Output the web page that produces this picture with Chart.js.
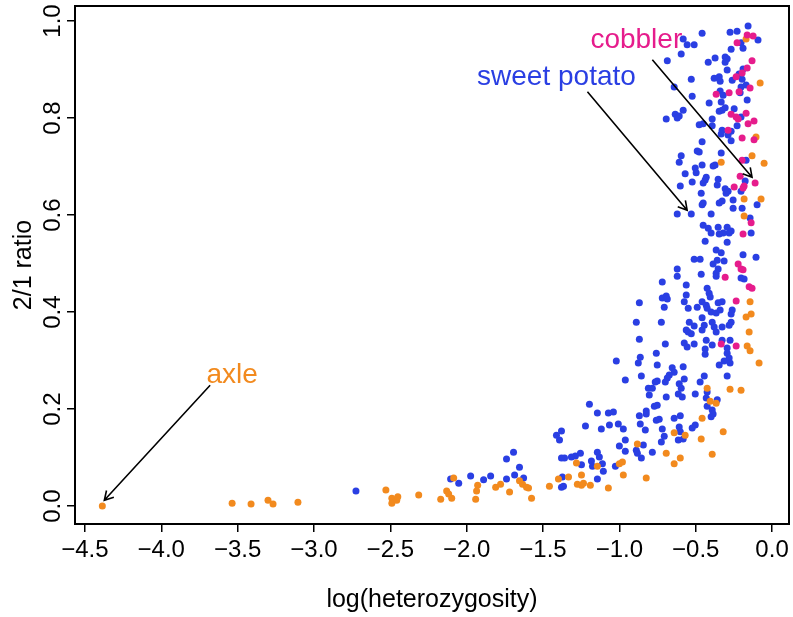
<!DOCTYPE html>
<html>
<head>
<meta charset="utf-8">
<script src="https://cdn.jsdelivr.net/npm/chart.js@4"></script>
<style>
  html, body { margin: 0; padding: 0; background: #fff; }
  #grafico { display: block; }
</style>
</head>
<body>
<canvas id="grafico" width="793" height="617"></canvas>
<script>
// ---- data: log(heterozygosity) vs 2/1 ratio ----
const blueX = [
  -0.157, -0.275, -0.229, -0.458, -0.582, -0.556, -0.510, -0.092, -0.203, -0.190,
  -0.268, -0.595, -0.686, -0.418, -0.373, -0.307, -0.294, -0.307, -0.294, -0.190,
  -0.216, -0.196, -0.261, -0.379, -0.346, -0.340, -0.529, -0.641, -0.203, -0.170,
  -0.340, -0.320, -0.523, -0.209, -0.333, -0.163, -0.412, -0.307, -0.327, -0.346,
  -0.248, -0.582, -0.634, -0.608, -0.621, -0.693, -0.392, -0.203, -0.477, -0.451,
  -0.392, -0.229, -0.327, -0.268, -0.333, -0.288, -0.268, -0.458, -0.490, -0.477,
  -0.333, -0.595, -0.608, -0.458, -0.503, -0.497, -0.386, -0.373, -0.569, -0.431,
  -0.170,
  -0.353, -0.438, -0.451, -0.523, -0.359, -0.601, -0.307, -0.288, -0.301, -0.464,
  -0.176, -0.203, -0.255, -0.327, -0.346, -0.451, -0.458, -0.255, -0.196, -0.098,
  -0.621, -0.529, -0.399, -0.144, -0.451, -0.418, -0.399, -0.353, -0.294, -0.268,
  -0.281, -0.320, -0.346, -0.137, -0.438, -0.294, -0.366, -0.333, -0.190, -0.105,
  -0.510, -0.471, -0.314, -0.359, -0.386, -0.353, -0.366, -0.366, -0.621, -0.621,
  -0.464, -0.203, -0.183, -0.719, -0.562, -0.425, -0.412, -0.405, -0.719, -0.693,
  -0.686, -0.562, -0.869, -0.706, -0.575, -0.549, -0.490, -0.458, -0.431, -0.425,
  -0.399, -0.366, -0.340, -0.327, -0.353, -0.261, -0.268, -0.268, -0.281, -0.889,
  -0.725, -0.542, -0.510, -0.562, -0.549, -0.529, -0.458, -0.444, -0.458, -0.392,
  -0.379, -0.366, -0.327, -0.869, -0.699, -0.575, -0.510, -0.431, -0.392, -0.327,
  -0.275,
  -0.556, -0.438, -0.438, -0.294, -0.294, -0.281, -0.275, -0.314, -0.346, -1.020,
  -0.863, -0.876, -0.758, -0.752, -0.654, -0.641, -0.582, -0.856, -0.961, -0.294,
  -0.444, -0.471, -0.575, -0.673, -0.686, -0.699, -0.752, -0.765, -0.608, -0.595,
  -0.810, -0.784, -0.804, -0.693, -0.614, -0.588, -0.503, -0.425, -0.431, -0.359,
  -1.196, -1.144, -1.072, -1.039, -0.824, -0.824, -0.771, -0.752, -0.869, -0.601,
  -0.641, -0.758, -0.739, -0.425, -0.392, -0.386, -0.399, -1.222, -1.118, -1.065,
  -1.007, -0.974, -0.863, -0.830, -0.719, -0.706, -0.608, -0.601, -0.503, -0.523,
  -1.379, -1.392, -0.961, -1.000, -0.961, -0.889, -0.882, -0.843, -0.784, -0.725,
  -0.614, -0.582, -0.856, -1.144, -1.131, -1.183, -1.176, -1.255, -1.288, -1.314,
  -1.359, -1.379, -1.248, -1.111, -1.105, -1.026, -1.144, -1.373, -1.379,
  -2.725, -2.105, -2.052, -1.974, -1.889, -1.843, -1.739, -1.693, -1.654, -1.739,
  -1.686, -1.627, -1.412, -1.366
];
const blueY = [
  0.990, 0.977, 0.979, 0.975, 0.963, 0.951, 0.951, 0.961, 0.955, 0.944,
  0.942, 0.932, 0.918, 0.915, 0.924, 0.926, 0.922, 0.915, 0.899, 0.901,
  0.891, 0.880, 0.878, 0.882, 0.885, 0.876, 0.880, 0.864, 0.864, 0.868,
  0.856, 0.847, 0.845, 0.852, 0.833, 0.837, 0.831, 0.821, 0.816, 0.814,
  0.819, 0.816, 0.808, 0.804, 0.800, 0.798, 0.798, 0.802, 0.786, 0.788,
  0.784, 0.784, 0.775, 0.773, 0.767, 0.765, 0.753, 0.751, 0.732, 0.730,
  0.728, 0.722, 0.709, 0.703, 0.697, 0.687, 0.701, 0.703, 0.685, 0.678,
  0.713,
  0.674, 0.672, 0.666, 0.668, 0.662, 0.660, 0.654, 0.649, 0.645, 0.645,
  0.670, 0.649, 0.631, 0.629, 0.625, 0.625, 0.621, 0.614, 0.614, 0.621,
  0.602, 0.602, 0.602, 0.594, 0.579, 0.573, 0.563, 0.575, 0.575, 0.567,
  0.563, 0.563, 0.561, 0.563, 0.546, 0.544, 0.528, 0.522, 0.518, 0.513,
  0.509, 0.509, 0.505, 0.507, 0.499, 0.489, 0.480, 0.474, 0.489, 0.474,
  0.478, 0.470, 0.468, 0.462, 0.456, 0.449, 0.439, 0.431, 0.429, 0.433,
  0.427, 0.435, 0.419, 0.410, 0.421, 0.408, 0.410, 0.421, 0.414, 0.408,
  0.400, 0.398, 0.404, 0.421, 0.419, 0.404, 0.396, 0.379, 0.373, 0.379,
  0.379, 0.379, 0.371, 0.363, 0.359, 0.355, 0.388, 0.373, 0.363, 0.379,
  0.369, 0.359, 0.369, 0.344, 0.334, 0.336, 0.334, 0.342, 0.332, 0.342,
  0.342,
  0.328, 0.324, 0.313, 0.326, 0.315, 0.305, 0.295, 0.299, 0.291, 0.299,
  0.307, 0.295, 0.315, 0.291, 0.285, 0.276, 0.287, 0.268, 0.260, 0.268,
  0.268, 0.256, 0.262, 0.270, 0.264, 0.256, 0.258, 0.256, 0.252, 0.243,
  0.243, 0.243, 0.229, 0.225, 0.231, 0.225, 0.231, 0.235, 0.223, 0.219,
  0.210, 0.192, 0.192, 0.194, 0.196, 0.190, 0.206, 0.208, 0.186, 0.186,
  0.181, 0.177, 0.179, 0.206, 0.198, 0.190, 0.184, 0.165, 0.159, 0.167,
  0.169, 0.159, 0.169, 0.157, 0.159, 0.144, 0.163, 0.153, 0.167, 0.161,
  0.155, 0.136, 0.136, 0.124, 0.113, 0.115, 0.109, 0.126, 0.111, 0.132,
  0.136, 0.138, 0.099, 0.111, 0.101, 0.093, 0.082, 0.109, 0.103, 0.101,
  0.099, 0.099, 0.085, 0.087, 0.072, 0.082, 0.056, 0.060, 0.039,
  0.031, 0.056, 0.047, 0.062, 0.054, 0.062, 0.097, 0.111, 0.080, 0.056,
  0.064, 0.058, 0.146, 0.041
];

const orangeX = [
  -0.170, -0.078, -0.105, -0.131, -0.052, -0.333, -0.183, -0.072, -0.183, -0.144,
  -0.170, -0.137, -0.150, -0.163, -0.144, -0.085, -0.425, -0.405, -0.366, -0.275,
  -0.203, -0.458, -0.641, -0.569, -0.320, -0.464, -0.882, -0.693, -0.601, -0.641,
  -0.392, -1.281, -1.144, -1.000, -0.980, -0.974, -0.824, -1.333, -1.248, -1.275,
  -1.248, -1.235, -1.190, -1.072, -1.399,
  -2.529, -2.490, -2.490, -2.458, -2.451, -2.314, -2.170, -2.131, -2.118, -2.098,
  -2.085, -1.928, -1.935, -1.941, -1.810, -1.778, -1.719, -1.654, -1.634, -1.608,
  -1.595, -1.575, -1.458,
  -4.386, -3.536, -3.412, -3.301, -3.268, -3.105
];
const orangeY = [
  0.963, 0.872, 0.761, 0.722, 0.707, 0.709, 0.633, 0.633, 0.598, 0.421,
  0.390, 0.396, 0.359, 0.330, 0.320, 0.295, 0.243, 0.216, 0.212, 0.241,
  0.239, 0.181, 0.151, 0.146, 0.153, 0.138, 0.128, 0.109, 0.099, 0.087,
  0.107, 0.089, 0.082, 0.087, 0.091, 0.064, 0.058, 0.060, 0.064, 0.045,
  0.043, 0.047, 0.043, 0.037, 0.056,
  0.033, 0.016, 0.006, 0.012, 0.019, 0.023, 0.014, 0.031, 0.025, 0.016,
  0.058, 0.043, 0.031, 0.014, 0.039, 0.045, 0.029, 0.052, 0.045, 0.039,
  0.037, 0.016, 0.041,
  0.000, 0.006, 0.004, 0.012, 0.004, 0.008
];

const pinkX = [
  -0.163, -0.124, -0.229, -0.131, -0.163, -0.196, -0.235, -0.144, -0.216, -0.366,
  -0.281, -0.268, -0.235, -0.222, -0.170, -0.118, -0.157, -0.288, -0.196, -0.118,
  -0.196, -0.209, -0.248, -0.190, -0.183, -0.111, -0.137, -0.190, -0.222, -0.203,
  -0.190, -0.307, -0.150, -0.131, -0.235, -0.333, -0.235
];
const pinkY = [
  0.971, 0.969, 0.955, 0.918, 0.903, 0.893, 0.885, 0.862, 0.854, 0.849,
  0.852, 0.808, 0.802, 0.798, 0.810, 0.794, 0.788, 0.775, 0.759, 0.755,
  0.713, 0.680, 0.658, 0.656, 0.660, 0.666, 0.584, 0.561, 0.499, 0.489,
  0.487, 0.472, 0.452, 0.449, 0.423, 0.334, 0.330
];

const xTicks = [-4.5, -4.0, -3.5, -3.0, -2.5, -2.0, -1.5, -1.0, -0.5, 0.0];
const yTicks = [0.0, 0.2, 0.4, 0.6, 0.8, 1.0];

// annotation labels: text, colour, text position, arrow start, arrow tip (data units)
const labels = [
  { text: "axle", cor: "#f28a1e", tx: -3.536, ty: 0.270, ax: -3.680, ay: 0.249, bx: -4.373, by: 0.012 },
  { text: "sweet potato", cor: "#2a3fe3", tx: -1.412, ty: 0.885, ax: -1.209, ay: 0.854, bx: -0.556, by: 0.610 },
  { text: "cobbler", cor: "#e61c8c", tx: -0.889, ty: 0.961, ax: -0.784, ay: 0.920, bx: -0.131, by: 0.678 }
];

const AZUL = "#2a3fe3";
const LARANJA = "#f28a1e";
const ROSA = "#e61c8c";
const FONTE = "'Liberation Sans', Arial, Helvetica, sans-serif";

const pares = (xs, ys) => xs.map((x, i) => ({ x: x, y: ys[i] }));
const menos = v => (v < 0 ? "\u2212" : "") + Math.abs(v).toFixed(1);

// box, rotated y labels, y title, x title and the arrows
const moldura = {
  id: "moldura",
  afterDraw(chart) {
    const ctx = chart.ctx;
    const a = chart.chartArea;
    const sx = chart.scales.x;
    const sy = chart.scales.y;
    ctx.save();

    ctx.strokeStyle = "#000";
    ctx.lineWidth = 2;
    ctx.strokeRect(a.left, a.top, a.right - a.left, a.bottom - a.top);

    ctx.fillStyle = "#000";
    ctx.font = "24px " + FONTE;
    ctx.textAlign = "center";
    ctx.textBaseline = "middle";
    yTicks.forEach(v => {
      ctx.save();
      ctx.translate(53, sy.getPixelForValue(v));
      ctx.rotate(-Math.PI / 2);
      ctx.fillText(v.toFixed(1), 0, 0);
      ctx.restore();
    });

    ctx.font = "25px " + FONTE;
    ctx.save();
    ctx.translate(24, (a.top + a.bottom) / 2);
    ctx.rotate(-Math.PI / 2);
    ctx.fillText("2/1 ratio", 0, 0);
    ctx.restore();
    ctx.fillText("log(heterozygosity)", (a.left + a.right) / 2, 600);

    labels.forEach(l => {
      const x0 = sx.getPixelForValue(l.ax), y0 = sy.getPixelForValue(l.ay);
      const x1 = sx.getPixelForValue(l.bx), y1 = sy.getPixelForValue(l.by);
      ctx.strokeStyle = "#000";
      ctx.lineWidth = 1.6;
      ctx.beginPath();
      ctx.moveTo(x0, y0);
      ctx.lineTo(x1, y1);
      const ang = Math.atan2(y1 - y0, x1 - x0);
      const len = 10;
      ctx.moveTo(x1 - len * Math.cos(ang - Math.PI / 6), y1 - len * Math.sin(ang - Math.PI / 6));
      ctx.lineTo(x1, y1);
      ctx.lineTo(x1 - len * Math.cos(ang + Math.PI / 6), y1 - len * Math.sin(ang + Math.PI / 6));
      ctx.stroke();

      ctx.fillStyle = l.cor;
      ctx.font = "28px " + FONTE;
      ctx.fillText(l.text, sx.getPixelForValue(l.tx), sy.getPixelForValue(l.ty));
    });
    ctx.restore();
  }
};

const RAIO = 3.5;

new Chart(document.getElementById("grafico"), {
  type: "scatter",
  data: {
    datasets: [
      { label: "cobbler", data: pares(pinkX, pinkY), backgroundColor: ROSA, pointRadius: RAIO, borderWidth: 0 },
      { label: "other", data: pares(orangeX, orangeY), backgroundColor: LARANJA, pointRadius: RAIO, borderWidth: 0 },
      { label: "sweet potato", data: pares(blueX, blueY), backgroundColor: AZUL, pointRadius: RAIO, borderWidth: 0 }
    ]
  },
  options: {
    responsive: false,
    animation: false,
    events: [],
    layout: { padding: { top: 6, right: 3, left: 0, bottom: 0 } },
    plugins: {
      legend: { display: false },
      tooltip: { enabled: false }
    },
    scales: {
      x: {
        type: "linear",
        min: -4.565,
        max: 0.111,
        afterBuildTicks: s => { s.ticks = xTicks.map(v => ({ value: v })); },
        afterFit: s => { s.height = 93; },
        border: { display: false },
        grid: { drawOnChartArea: false, drawTicks: true, tickLength: 8, color: "#000", lineWidth: 1.5 },
        ticks: {
          color: "#000",
          padding: 4,
          maxRotation: 0,
          autoSkip: false,
          font: { family: FONTE, size: 24 },
          callback: v => menos(v)
        }
      },
      y: {
        type: "linear",
        min: -0.037,
        max: 1.031,
        afterBuildTicks: s => { s.ticks = yTicks.map(v => ({ value: v })); },
        afterFit: s => { s.width = 75; },
        border: { display: false },
        grid: { drawOnChartArea: false, drawTicks: true, tickLength: 8, color: "#000", lineWidth: 1.5 },
        ticks: { display: false }
      }
    }
  },
  plugins: [moldura]
});
</script>
</body>
</html>
